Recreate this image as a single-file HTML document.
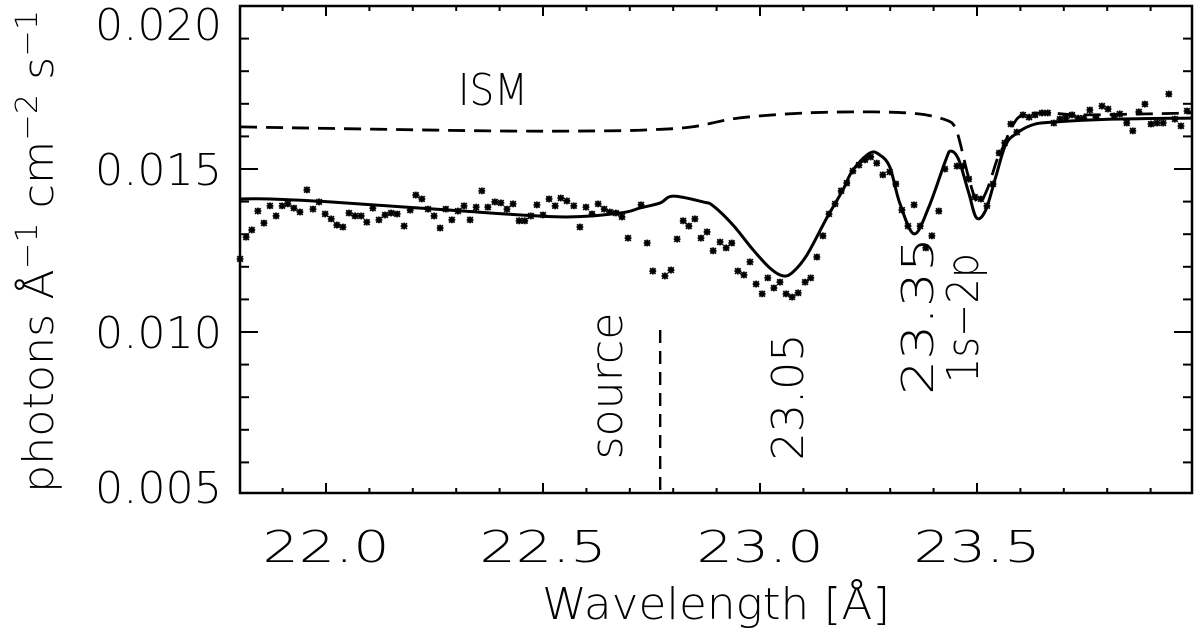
<!DOCTYPE html>
<html><head><meta charset="utf-8"><style>
html,body{margin:0;padding:0;background:#fff;}
svg{display:block;font-family:"DejaVu Sans ExtraLight","DejaVu Sans","Liberation Sans",sans-serif;font-weight:200;}
</style></head><body>
<svg id="chart" width="1200" height="635" viewBox="0 0 1200 635" xmlns="http://www.w3.org/2000/svg">
<g id="marks"></g>
<rect x="240" y="6" width="952" height="487" fill="none" stroke="#000" stroke-width="2.5"/>
<g id="ticks" stroke="#000" stroke-width="2"></g>
<g id="labels" font-size="44" fill="#000"></g>
<text x="716" y="619" text-anchor="middle" font-size="44" textLength="348" lengthAdjust="spacingAndGlyphs">Wavelength [Å]</text>
<text transform="translate(53,493) rotate(-90)" font-size="42" textLength="483" lengthAdjust="spacingAndGlyphs">photons Å<tspan dy="-16" font-size="30">−1</tspan><tspan dy="16"> cm</tspan><tspan dy="-16" font-size="30">−2</tspan><tspan dy="16"> s</tspan><tspan dy="-16" font-size="30">−1</tspan></text>
<text x="458" y="105" font-size="44" textLength="70" lengthAdjust="spacingAndGlyphs">ISM</text>
<text transform="translate(622,386) rotate(-90)" text-anchor="middle" font-size="44" textLength="147" lengthAdjust="spacingAndGlyphs">source</text>
<text transform="translate(803,397) rotate(-90)" text-anchor="middle" font-size="44" textLength="127" lengthAdjust="spacingAndGlyphs">23.05</text>
<text transform="translate(933,316) rotate(-90)" text-anchor="middle" font-size="44" textLength="158" lengthAdjust="spacingAndGlyphs">23.35</text>
<text transform="translate(978,318) rotate(-90)" text-anchor="middle" font-size="44" textLength="130" lengthAdjust="spacingAndGlyphs">1s−2p</text>
</svg>
<script>
// observed data: wavelength (Å), flux in 1e-3 photons/Å/cm2/s
const obsWl = [21.802,21.816,21.829,21.843,21.857,21.871,21.885,21.899,21.912,21.926,21.940,21.956,21.970,21.984,21.998,22.012,22.025,22.039,22.053,22.067,22.081,22.094,22.108,22.122,22.136,22.150,22.164,22.180,22.194,22.207,22.221,22.235,22.249,22.263,22.276,22.290,22.304,22.318,22.332,22.346,22.359,22.373,22.389,22.403,22.417,22.431,22.445,22.458,22.472,22.486,22.500,22.514,22.528,22.541,22.555,22.571,22.585,22.599,22.613,22.627,22.641,22.654,22.668,22.682,22.696,22.726,22.740,22.753,22.781,22.795,22.809,22.823,22.836,22.850,22.864,22.878,22.892,22.908,22.922,22.935,22.949,22.963,22.977,22.991,23.005,23.018,23.032,23.046,23.060,23.074,23.088,23.104,23.117,23.131,23.145,23.159,23.173,23.187,23.200,23.214,23.228,23.242,23.255,23.269,23.283,23.299,23.313,23.327,23.341,23.355,23.369,23.382,23.396,23.412,23.426,23.454,23.468,23.481,23.495,23.509,23.523,23.537,23.551,23.564,23.578,23.592,23.606,23.620,23.634,23.650,23.663,23.677,23.691,23.705,23.719,23.733,23.746,23.760,23.774,23.788,23.802,23.816,23.829,23.845,23.859,23.873,23.887,23.901,23.915,23.929,23.942,23.956,23.970,23.984];
const obsFlux = [12.24,12.91,13.13,13.71,13.34,13.87,13.56,13.87,13.93,13.80,13.68,14.36,13.77,13.99,13.62,13.47,13.28,13.22,13.65,13.56,13.56,13.37,13.80,13.44,13.59,13.65,13.62,13.25,13.74,14.20,14.08,13.77,13.56,13.19,13.77,13.44,13.71,13.87,13.44,13.83,14.33,13.83,13.99,13.96,13.77,13.93,13.41,13.41,13.56,13.90,13.59,14.08,13.87,14.11,14.02,13.87,13.22,13.83,13.62,13.93,13.77,13.68,13.65,13.53,12.88,13.90,12.73,11.87,11.72,11.90,12.85,13.41,13.25,13.47,12.88,13.07,12.49,12.76,12.58,12.73,11.87,11.75,12.15,11.47,11.17,11.66,11.35,11.53,11.17,11.07,11.20,11.53,11.66,12.30,12.95,13.62,13.93,14.33,14.57,14.94,15.12,15.28,15.37,15.18,14.82,14.91,14.54,13.74,13.25,13.90,13.25,12.58,12.95,13.71,15.00,15.09,15.09,14.69,14.14,14.08,13.87,14.54,15.49,15.80,16.38,16.13,16.66,16.59,16.66,16.72,16.72,16.41,16.53,16.56,16.66,16.56,16.56,16.81,16.59,16.93,16.84,16.63,16.69,16.41,16.17,16.75,16.99,16.38,16.41,16.41,17.30,16.53,16.32,16.78];
// best-fit model (solid)
const modelWl = [21.802,21.871,22.009,22.286,22.539,22.677,22.723,22.770,22.800,22.869,22.892,22.938,22.984,23.023,23.053,23.076,23.108,23.154,23.191,23.214,23.253,23.276,23.299,23.322,23.355,23.389,23.428,23.440,23.458,23.481,23.499,23.520,23.543,23.566,23.592,23.627,23.673,23.811,23.993];
const modelFlux = [14.08,14.08,13.99,13.74,13.53,13.65,13.80,13.96,14.17,13.99,13.87,13.28,12.52,11.96,11.72,11.84,12.36,13.50,14.36,14.97,15.49,15.43,15.06,13.96,13.01,13.83,15.28,15.55,15.28,14.26,13.50,13.74,14.75,15.74,16.10,16.35,16.44,16.53,16.56];
// ISM-only model (dashed)
const ismWl = [21.802,22.376,22.636,22.740,22.843,22.949,23.106,23.260,23.366,23.429,23.449,23.461,23.481,23.502,23.523,23.546,23.560,23.583,23.606,23.661,23.737,23.891,23.995];
const ismFlux = [16.29,16.17,16.17,16.20,16.29,16.56,16.72,16.75,16.69,16.50,16.29,15.80,14.72,13.96,14.36,15.28,15.67,16.35,16.66,16.72,16.66,16.69,16.72];
const xTickLabels = ["22.0","22.5","23.0","23.5"];
const xTickValues = [22.0,22.5,23.0,23.5];
const yTickLabels = ["0.020","0.015","0.010","0.005"];
const yTickValues = [0.020,0.015,0.010,0.005];
const sourceWl = [22.77];

const NS="http://www.w3.org/2000/svg";
const X0=240,X1=1192,Y0=6,Y1=493;
function xs(l){return 326+(l-22)*434;}
function ys(v){return 6+(0.020-v)/0.015*489;}
function yf(f){return ys(f*1e-3);}
function mk(tag,attrs,parent){const e=document.createElementNS(NS,tag);for(const k in attrs)e.setAttribute(k,attrs[k]);parent.appendChild(e);return e;}
function smooth(pts){
  let d="M"+pts[0][0].toFixed(1)+","+pts[0][1].toFixed(1);
  for(let i=0;i<pts.length-1;i++){
    const p0=pts[Math.max(0,i-1)],p1=pts[i],p2=pts[i+1],p3=pts[Math.min(pts.length-1,i+2)];
    const c1=[p1[0]+(p2[0]-p0[0])/6,p1[1]+(p2[1]-p0[1])/6];
    const c2=[p2[0]-(p3[0]-p1[0])/6,p2[1]-(p3[1]-p1[1])/6];
    d+=" C"+c1.map(v=>v.toFixed(1)).join(",")+" "+c2.map(v=>v.toFixed(1)).join(",")+" "+p2[0].toFixed(1)+","+p2[1].toFixed(1);
  }
  return d;
}
const marks=document.getElementById("marks");
const ticks=document.getElementById("ticks");
const labels=document.getElementById("labels");

const ism=mk("path",{d:smooth(ismWl.map((l,i)=>[xs(l),yf(ismFlux[i])])),fill:"none",stroke:"#000","stroke-width":2.8,"stroke-dasharray":"17,9"},marks);


const mod=mk("path",{d:smooth(modelWl.map((l,i)=>[xs(l),yf(modelFlux[i])])),fill:"none",stroke:"#000","stroke-width":3},marks);


sourceWl.forEach(l=>{
  const s=mk("line",{x1:xs(l),x2:xs(l),y1:330,y2:493,stroke:"#000","stroke-width":2.4,"stroke-dasharray":"13,8"},marks);
  
  
});
obsWl.forEach((l,i)=>{
  const cx=xs(l),cy=yf(obsFlux[i]),r=2.8;
  const p=mk("path",{d:`M${cx-r},${cy-r}L${cx+r},${cy+r}M${cx-r},${cy+r}L${cx+r},${cy-r}M${cx-r-0.6},${cy}L${cx+r+0.6},${cy}M${cx},${cy-r-0.6}L${cx},${cy+r+0.6}`,stroke:"#000","stroke-width":1.8},marks);
  
  
});
for(let k=0;k<=22;k++){
  const l=21.8+k*0.1, x=xs(l);
  if(x<X0+1||x>X1-1) continue;
  const major=xTickValues.some(v=>Math.abs(v-l)<1e-6);
  const len=major?10:5;
  mk("line",{x1:x,x2:x,y1:Y1,y2:Y1-len},ticks);
  mk("line",{x1:x,x2:x,y1:Y0,y2:Y0+len},ticks);
}
xTickValues.forEach((v,i)=>{
  const t=mk("text",{x:xs(v),y:562,"text-anchor":"middle",textLength:127,lengthAdjust:"spacingAndGlyphs"},labels);
  t.textContent=xTickLabels[i];
  
  
});
for(let k=0;k<=15;k++){
  const v=0.005+k*0.001, y=ys(v);
  if(y<Y0+1||y>Y1-1) continue;
  const major=yTickValues.some(t=>Math.abs(t-v)<1e-9);
  const len=major?18:9;
  mk("line",{x1:X0,x2:X0+len,y1:y,y2:y},ticks);
  mk("line",{x1:X1,x2:X1-len,y1:y,y2:y},ticks);
}
yTickValues.forEach((v,i)=>{
  const t=mk("text",{x:222,y:Math.min(Math.max(ys(v)+16,40),503),"text-anchor":"end",textLength:127,lengthAdjust:"spacingAndGlyphs"},labels);
  t.textContent=yTickLabels[i];
  
  
});
</script>
</body></html>
